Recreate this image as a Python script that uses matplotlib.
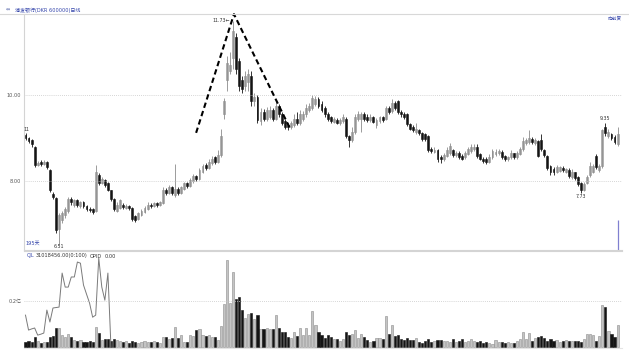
import numpy as np
import matplotlib
matplotlib.use('Agg')
import matplotlib.pyplot as plt
from matplotlib.lines import Line2D

plt.rcParams['font.family'] = ['DejaVu Sans', 'Noto Sans CJK SC']

# daily candles, 195 days
opens = [9.08, 9.00, 8.95, 8.80, 8.38, 8.45, 8.40, 8.45, 8.25, 7.70,
         7.60, 6.88, 7.10, 7.22, 7.30, 7.58, 7.45, 7.55, 7.42, 7.50,
         7.42, 7.36, 7.35, 7.30, 8.15, 7.95, 8.02, 7.95, 7.78, 7.58,
         7.30, 7.38, 7.45, 7.38, 7.42, 7.38, 7.18, 7.12, 7.20, 7.28,
         7.35, 7.45, 7.42, 7.48, 7.44, 7.48, 7.80, 7.72, 7.85, 7.68,
         7.82, 7.72, 7.82, 7.95, 7.88, 8.00, 8.12, 8.05, 8.22, 8.38,
         8.30, 8.42, 8.55, 8.45, 8.60, 9.55, 10.35, 10.55, 10.85, 11.35,
         10.80, 10.35, 10.20, 10.30, 10.45, 9.85, 9.95, 9.40, 9.60, 9.45,
         9.50, 9.65, 9.45, 9.75, 9.55, 9.40, 9.30, 9.25, 9.30, 9.45,
         9.35, 9.45, 9.55, 9.65, 9.70, 9.80, 9.90, 9.80, 9.70, 9.55,
         9.48, 9.38, 9.42, 9.35, 9.40, 9.45, 9.05, 8.95, 9.15, 9.45,
         9.45, 9.55, 9.50, 9.42, 9.48, 9.30, 9.40, 9.48, 9.45, 9.70,
         9.62, 9.82, 9.85, 9.60, 9.55, 9.55, 9.32, 9.25, 9.15, 9.18,
         9.12, 9.10, 9.05, 8.75, 8.68, 8.72, 8.55, 8.50, 8.58, 8.65,
         8.72, 8.60, 8.66, 8.58, 8.55, 8.62, 8.70, 8.75, 8.80, 8.62,
         8.52, 8.50, 8.45, 8.55, 8.62, 8.64, 8.68, 8.58, 8.50, 8.55,
         8.64, 8.55, 8.62, 8.75, 8.88, 8.90, 8.98, 8.88, 8.92, 8.95,
         8.72, 8.58, 8.35, 8.28, 8.22, 8.24, 8.30, 8.22, 8.26, 8.10,
         8.20, 8.10, 7.95, 7.80, 7.95, 8.15, 8.22, 8.58, 8.25, 8.35,
         9.25, 9.05, 9.10, 9.02, 8.85]

closes = [9.00, 8.92, 8.85, 8.38, 8.42, 8.40, 8.45, 8.32, 7.78, 7.62,
          6.85, 7.20, 7.25, 7.35, 7.58, 7.50, 7.55, 7.45, 7.50, 7.42,
          7.35, 7.32, 7.28, 8.20, 7.95, 8.05, 7.90, 7.80, 7.58, 7.35,
          7.45, 7.55, 7.40, 7.42, 7.38, 7.12, 7.10, 7.25, 7.30, 7.38,
          7.45, 7.42, 7.48, 7.44, 7.50, 7.80, 7.72, 7.85, 7.72, 7.82,
          7.72, 7.85, 7.95, 7.88, 8.02, 8.12, 8.05, 8.25, 8.35, 8.30,
          8.45, 8.52, 8.45, 8.60, 9.05, 9.85, 10.75, 10.70, 11.50, 10.60,
          10.20, 10.15, 10.45, 10.50, 9.85, 9.95, 9.42, 9.60, 9.45, 9.65,
          9.65, 9.45, 9.75, 9.55, 9.35, 9.25, 9.25, 9.35, 9.45, 9.35,
          9.55, 9.55, 9.70, 9.75, 9.92, 9.90, 9.75, 9.65, 9.55, 9.45,
          9.40, 9.45, 9.36, 9.42, 9.50, 9.05, 8.95, 9.15, 9.50, 9.55,
          9.55, 9.45, 9.42, 9.50, 9.38, 9.42, 9.48, 9.42, 9.70, 9.60,
          9.82, 9.70, 9.60, 9.55, 9.50, 9.32, 9.22, 9.18, 9.22, 9.12,
          8.98, 8.98, 8.72, 8.70, 8.72, 8.50, 8.50, 8.60, 8.72, 8.82,
          8.60, 8.65, 8.55, 8.52, 8.66, 8.75, 8.80, 8.80, 8.58, 8.52,
          8.46, 8.44, 8.55, 8.70, 8.68, 8.70, 8.55, 8.52, 8.55, 8.66,
          8.56, 8.65, 8.75, 8.92, 8.95, 9.00, 8.90, 8.95, 8.58, 8.75,
          8.60, 8.30, 8.20, 8.20, 8.32, 8.32, 8.25, 8.27, 8.12, 8.20,
          8.06, 7.92, 7.80, 7.92, 8.10, 8.35, 8.35, 8.32, 8.35, 9.18,
          9.12, 9.15, 9.00, 8.90, 9.10]

highs = [9.11, 9.03, 8.97, 8.82, 8.47, 8.48, 8.49, 8.47, 8.27, 7.74,
         7.62, 7.25, 7.30, 7.40, 7.63, 7.62, 7.58, 7.58, 7.54, 7.53,
         7.45, 7.40, 7.38, 8.37, 8.18, 8.10, 8.05, 7.98, 7.80, 7.60,
         7.50, 7.58, 7.48, 7.46, 7.45, 7.40, 7.20, 7.28, 7.34, 7.42,
         7.50, 7.48, 7.52, 7.51, 7.54, 7.86, 7.84, 7.90, 7.88, 8.40,
         7.86, 7.88, 7.98, 7.98, 8.06, 8.16, 8.15, 8.30, 8.40, 8.42,
         8.50, 8.58, 8.58, 8.72, 9.20, 9.92, 10.90, 11.00, 11.73, 11.45,
         10.85, 10.45, 10.55, 10.60, 10.55, 10.05, 10.00, 9.70, 9.68, 9.72,
         9.75, 9.70, 9.85, 9.80, 9.60, 9.45, 9.35, 9.40, 9.55, 9.60,
         9.65, 9.62, 9.78, 9.82, 10.00, 9.98, 9.95, 9.85, 9.75, 9.60,
         9.52, 9.50, 9.46, 9.47, 9.55, 9.50, 9.08, 9.25, 9.55, 9.62,
         9.60, 9.60, 9.55, 9.55, 9.52, 9.46, 9.52, 9.52, 9.75, 9.74,
         9.90, 9.86, 9.88, 9.65, 9.60, 9.58, 9.36, 9.30, 9.35, 9.22,
         9.15, 9.12, 9.08, 8.80, 8.78, 8.75, 8.60, 8.66, 8.78, 8.88,
         8.75, 8.70, 8.70, 8.62, 8.70, 8.80, 8.85, 8.85, 8.85, 8.66,
         8.56, 8.55, 8.62, 8.75, 8.75, 8.74, 8.72, 8.60, 8.58, 8.72,
         8.66, 8.70, 8.80, 9.02, 9.00, 9.19, 9.02, 9.00, 8.96, 9.10,
         8.75, 8.60, 8.38, 8.32, 8.38, 8.36, 8.35, 8.30, 8.30, 8.28,
         8.22, 8.12, 7.98, 7.97, 8.15, 8.45, 8.40, 8.62, 8.40, 9.20,
         9.35, 9.20, 9.12, 9.06, 9.25]

lows = [8.95, 8.88, 8.80, 8.33, 8.34, 8.36, 8.37, 8.28, 7.74, 7.58,
        6.80, 6.51, 7.02, 7.15, 7.26, 7.45, 7.40, 7.40, 7.38, 7.38,
        7.31, 7.28, 7.24, 7.28, 7.90, 7.92, 7.86, 7.76, 7.54, 7.30,
        7.28, 7.35, 7.36, 7.35, 7.33, 7.08, 7.05, 7.10, 7.18, 7.25,
        7.32, 7.38, 7.40, 7.40, 7.42, 7.46, 7.68, 7.70, 7.68, 7.62,
        7.68, 7.70, 7.80, 7.84, 7.85, 7.96, 8.00, 8.02, 8.18, 8.26,
        8.28, 8.38, 8.40, 8.42, 8.55, 9.45, 10.10, 10.50, 10.60, 10.50,
        10.10, 10.05, 10.10, 10.10, 9.75, 9.75, 9.35, 9.30, 9.40, 9.40,
        9.45, 9.40, 9.42, 9.50, 9.30, 9.20, 9.18, 9.20, 9.25, 9.30,
        9.30, 9.40, 9.50, 9.60, 9.65, 9.75, 9.70, 9.60, 9.50, 9.40,
        9.35, 9.34, 9.32, 9.30, 9.36, 9.00, 8.78, 8.90, 9.10, 9.40,
        9.15, 9.40, 9.38, 9.38, 9.34, 9.23, 9.36, 9.38, 9.42, 9.55,
        9.58, 9.66, 9.55, 9.50, 9.45, 9.28, 9.18, 9.14, 9.10, 9.06,
        8.94, 8.93, 8.68, 8.65, 8.64, 8.45, 8.42, 8.47, 8.55, 8.60,
        8.55, 8.56, 8.50, 8.48, 8.50, 8.60, 8.66, 8.70, 8.54, 8.48,
        8.42, 8.40, 8.42, 8.52, 8.58, 8.60, 8.50, 8.46, 8.46, 8.52,
        8.50, 8.52, 8.60, 8.70, 8.84, 8.86, 8.85, 8.84, 8.55, 8.70,
        8.55, 8.25, 8.15, 8.15, 8.18, 8.20, 8.20, 8.18, 8.08, 8.05,
        8.02, 7.88, 7.73, 7.76, 7.92, 8.10, 8.18, 8.28, 8.20, 8.30,
        9.05, 9.00, 8.95, 8.85, 8.82]

# volume in 万股
volumes = [220, 260, 220, 440, 260, 170, 220, 220, 440, 480,
           830, 830, 520, 440, 570, 440, 300, 260, 300, 220,
           220, 260, 220, 870, 610, 300, 350, 350, 260, 350,
           300, 260, 220, 260, 170, 260, 220, 170, 220, 260,
           220, 220, 260, 220, 170, 440, 440, 350, 390, 870,
           390, 520, 220, 220, 520, 480, 740, 780, 520, 480,
           520, 440, 440, 300, 910, 1870, 3780, 1910, 3260, 2090,
           2180, 1610, 1260, 1440, 1480, 1220, 1390, 780, 780, 830,
           780, 780, 1390, 830, 650, 650, 440, 390, 650, 480,
           830, 520, 830, 520, 1570, 960, 650, 520, 390, 520,
           440, 350, 350, 260, 350, 650, 520, 570, 740, 390,
           570, 440, 300, 220, 260, 390, 390, 350, 1350, 570,
           960, 480, 520, 350, 300, 390, 300, 300, 390, 220,
           170, 260, 350, 220, 260, 300, 300, 260, 260, 220,
           350, 220, 260, 350, 220, 260, 350, 260, 220, 260,
           170, 220, 170, 130, 300, 220, 220, 170, 220, 170,
           170, 260, 350, 650, 350, 610, 260, 390, 440, 480,
           390, 260, 350, 260, 300, 220, 260, 300, 260, 260,
           260, 260, 220, 350, 570, 570, 520, 260, 480, 1830,
           1740, 700, 570, 440, 960]

# OPID line (only the first days are drawn)
opid = [1390, 740, 790, 830, 520, 560, 610, 1610, 1090, 1700,
        1720, 1740, 3220, 2610, 2610, 3050, 3050, 3700, 3650, 2700,
        2300, 1910, 1300, 1390, 3870, 2610, 2040, 3220, 0]

# hand drawn trend lines (day index, price)
trend_x = [55.9, 68.3, 86.9]
trend_y = [9.12, 11.88, 9.19]

price_ticks = [8.0, 10.0]
price_labels = ['8.00', '10.00']

assert len(opens) == len(closes) == len(highs) == len(lows) == len(volumes) == 195

o = np.array(opens)
c = np.array(closes)
h = np.array(highs)
l = np.array(lows)
v = np.array(volumes)
x = np.arange(len(o))
up = c >= o

W, H = 629, 352
fig = plt.figure(figsize=(W / 100, H / 100), dpi=100)

def fx(px):
    return px / W

def fy(py):
    return 1 - py / H

ax_l, ax_r = 23.5, 622
ax1 = fig.add_axes([fx(ax_l), fy(250), fx(ax_r - ax_l), (250 - 14) / H])
ax2 = fig.add_axes([fx(ax_l), fy(348), fx(ax_r - ax_l), (348 - 251) / H])

step = (617.6 - 25.5) / 194
xlim = (-(25.5 - ax_l) / step, 194 + (ax_r - 617.6) / step)

up_fill, up_edge = '#c4c4c4', '#8c8c8c'
dn_col = '#141414'

# candles
ax1.vlines(x[up], l[up], h[up], color=up_edge, lw=0.6)
ax1.vlines(x[~up], l[~up], h[~up], color=dn_col, lw=0.6)
body_lo = np.minimum(o, c)
body_h = np.maximum(np.abs(c - o), 0.02)
ax1.bar(x[up], body_h[up], bottom=body_lo[up], width=0.62,
        color=up_fill, edgecolor=up_edge, linewidth=0.4)
ax1.bar(x[~up], body_h[~up], bottom=body_lo[~up], width=0.62,
        color=dn_col, edgecolor=dn_col, linewidth=0.4)

ax1.set_xlim(*xlim)
ax1.set_ylim(6.395, 11.884)
for p in price_ticks:
    ax1.axhline(p, color='#c8c8c8', lw=0.6, ls=(0, (1, 1.5)))
ax1.set_yticks(price_ticks)
ax1.set_yticklabels(price_labels)
ax1.set_xticks([])
ax1.tick_params(axis='y', length=0, pad=1.5, labelsize=3.6, labelcolor='#555555')
for s in ['top', 'right']:
    ax1.spines[s].set_visible(False)
ax1.spines['left'].set_color('#d4d4d4')
ax1.spines['bottom'].set_color('#d4d4d4')
ax1.spines['left'].set_linewidth(0.8)
ax1.spines['bottom'].set_linewidth(0.8)

# trend lines
ax1.plot(trend_x, trend_y, color='black', lw=1.5, ls=(0, (2.6, 1.6)), clip_on=False)

# price labels
imax = int(np.argmax(h))
ax1.text(imax - 0.9, h[imax], '%.2f←' % h[imax], fontsize=3.4, ha='right',
         va='center', color='#333333')
imin = int(np.argmin(l))
ax1.text(imin, l[imin] - 0.04, '%.2f' % l[imin], fontsize=3.4, ha='center',
         va='center', color='#333333')
ax1.text(0.3, h[0] + 0.02, '11', fontsize=3.4, ha='center', va='bottom', color='#333333')
i_hi2 = 190
ax1.text(i_hi2, h[i_hi2] + 0.04, '%.2f' % h[i_hi2], fontsize=3.4, ha='center',
         va='bottom', color='#333333')
i_lo2 = 182
ax1.text(i_lo2, l[i_lo2] - 0.04, '%.2f' % l[i_lo2], fontsize=3.4, ha='center',
         va='top', color='#333333')
ax1.text(0.003, 0.02, '%d天' % len(o), transform=ax1.transAxes, fontsize=3.6,
         color='#3344aa', va='bottom', ha='left')

# cursor line
ax1.vlines(len(o) - 0.8, 6.395, 7.09, color='#8080d0', lw=0.9)

# volume panel
ax2.bar(x[up], v[up], width=0.7, color=up_fill, edgecolor=up_edge, linewidth=0.4)
ax2.bar(x[~up], v[~up], width=0.7, color=dn_col, edgecolor=dn_col, linewidth=0.4)
ax2.plot(np.arange(len(opid)), opid, color='#7a7a7a', lw=0.7)
ax2.set_xlim(*xlim)
ax2.set_ylim(-40, 4180)
ax2.axhline(2000, color='#c8c8c8', lw=0.6, ls=(0, (1, 1.5)))
ax2.set_yticks([2000])
ax2.set_yticklabels(['0.2亿'])
ax2.set_xticks([])
ax2.tick_params(axis='y', length=0, pad=1.5, labelsize=3.6, labelcolor='#555555')
for s in ['left', 'right']:
    ax2.spines[s].set_visible(False)
ax2.spines['top'].set_color('#d4d4d4')
ax2.spines['bottom'].set_color('#e4e4e4')
ax2.spines['top'].set_linewidth(0.8)

# header texts
fig.add_artist(Line2D([0, 1], [fy(14), fy(14)], transform=fig.transFigure,
                      color='#d8d8d8', lw=0.8))
fig.text(fx(6), fy(10), '⇔', fontsize=3.6, color='#5566aa', va='center')
fig.text(fx(15), fy(10), '浦发银行(DKR 600000)日线', fontsize=3.6, color='#3344aa',
         va='center')
fig.text(fx(608), fy(18), '向前复', fontsize=3.4, color='#3344aa', va='center')
fig.text(fx(27), fy(256), 'CJL', fontsize=3.6, color='#3344aa', va='center')
fig.text(fx(36), fy(256), '31018456.00(0:100)', fontsize=3.6, color='#333333', va='center')
fig.text(fx(90), fy(256), 'OPID', fontsize=3.6, color='#333333', va='center')
fig.text(fx(105), fy(256), '0.00', fontsize=3.6, color='#333333', va='center')

fig.savefig('out.png', dpi=100, facecolor='white')
